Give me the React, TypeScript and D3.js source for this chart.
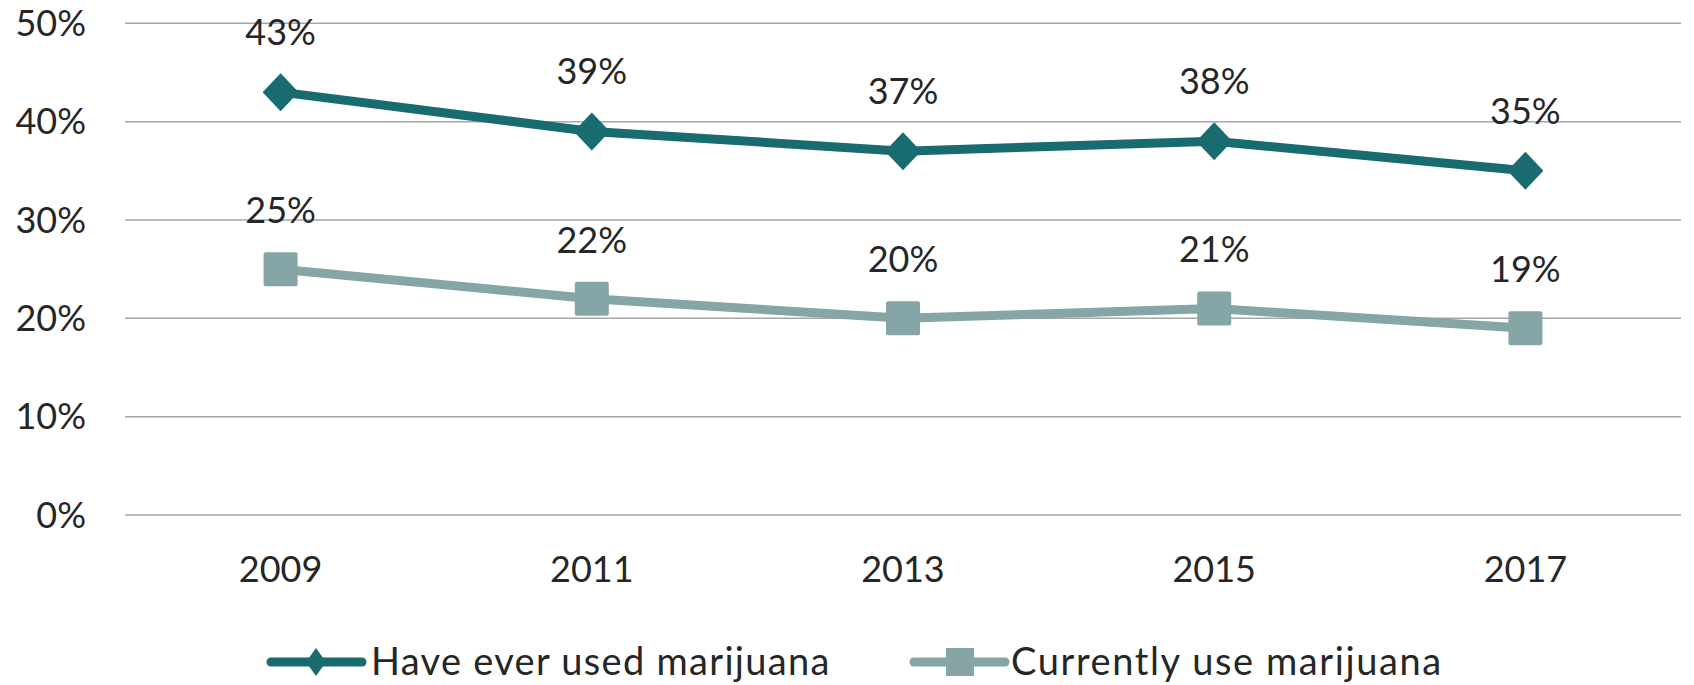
import React from "react";
import * as d3 from "d3";

const years = ["2009", "2011", "2013", "2015", "2017"];
const everUsed = [43, 39, 37, 38, 35];
const currentUse = [25, 22, 20, 21, 19];
const yTicks = [0, 10, 20, 30, 40, 50];
const seriesNames = ["Have ever used marijuana", "Currently use marijuana"];

const W = 1694;
const H = 685;
const DARK = "#186b6e";
const LIGHT = "#85a5a6";
const TEXT = "#262626";
const FONT = "Lato, 'Open Sans', sans-serif";
const FS = 36;

export default function App() {
  const x = d3.scaleBand<string>().domain(years).range([125, 1681]);
  const y = d3.scaleLinear().domain([0, 50]).range([515, 23.3]);
  const cx = (d: string) => (x(d) as number) + x.bandwidth() / 2;
  const line = d3
    .line<number>()
    .x((_, i) => cx(years[i]))
    .y((v) => y(v));

  const diamond = (px: number, py: number, hw: number, hh: number) =>
    `M${px},${py - hh}L${px + hw},${py}L${px},${py + hh}L${px - hw},${py}Z`;

  return (
    <svg
      width={W}
      height={H}
      style={{ position: "absolute", left: 0, top: 0, background: "#fff" }}
      fontFamily={FONT}
    >
      {yTicks.map((t) => (
        <g key={t}>
          <line x1={125} x2={1681} y1={y(t)} y2={y(t)} stroke="#a6a6a6" strokeWidth={1.5} />
          <text x={86} y={y(t)} dy="0.35em" textAnchor="end" fontSize={FS} fill={TEXT}>
            {t}%
          </text>
        </g>
      ))}
      {years.map((yr) => (
        <text key={yr} x={cx(yr)} y={569} dy="0.35em" textAnchor="middle" fontSize={FS} fill={TEXT}>
          {yr}
        </text>
      ))}

      <path d={line(currentUse) || ""} fill="none" stroke={LIGHT} strokeWidth={9} strokeLinejoin="round" strokeLinecap="round" />
      {currentUse.map((v, i) => (
        <rect key={i} x={cx(years[i]) - 17} y={y(v) - 17} width={34} height={34} rx={2} fill={LIGHT} />
      ))}
      <path d={line(everUsed) || ""} fill="none" stroke={DARK} strokeWidth={9} strokeLinejoin="round" strokeLinecap="round" />
      {everUsed.map((v, i) => (
        <path key={i} d={diamond(cx(years[i]), y(v), 18, 19)} fill={DARK} />
      ))}

      {everUsed.map((v, i) => (
        <text key={"a" + i} x={cx(years[i])} y={y(v) - 47} textAnchor="middle" fontSize={FS} fill={TEXT}>
          {v}%
        </text>
      ))}
      {currentUse.map((v, i) => (
        <text key={"b" + i} x={cx(years[i])} y={y(v) - 46} textAnchor="middle" fontSize={FS} fill={TEXT}>
          {v}%
        </text>
      ))}

      <g>
        <line x1={271} x2={362} y1={662} y2={662} stroke={DARK} strokeWidth={9} strokeLinecap="round" />
        <path d={diamond(316, 662, 10, 14)} fill={DARK} />
        <text x={371} y={662} dy="0.35em" fontSize={38} letterSpacing={1.3} fill={TEXT}>
          {seriesNames[0]}
        </text>
        <line x1={914} x2={1005} y1={662} y2={662} stroke={LIGHT} strokeWidth={9} strokeLinecap="round" />
        <rect x={946} y={648} width={28} height={28} fill={LIGHT} />
        <text x={1011} y={662} dy="0.35em" fontSize={38} letterSpacing={1.6} fill={TEXT}>
          {seriesNames[1]}
        </text>
      </g>
    </svg>
  );
}
